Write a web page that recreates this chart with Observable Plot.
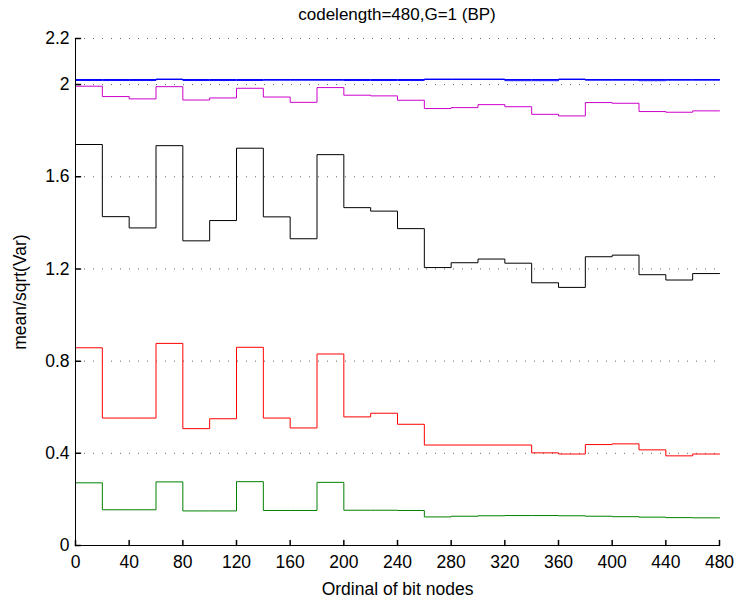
<!DOCTYPE html>
<html><head><meta charset="utf-8">
<script src="https://cdn.jsdelivr.net/npm/d3@7"></script>
<script src="https://cdn.jsdelivr.net/npm/@observablehq/plot@0.6"></script>
<style>
body{margin:0;background:#fff;font-family:"Liberation Sans",Arial,Helvetica,sans-serif;}
#title{height:28px;width:737px;box-sizing:border-box;padding-left:75px;padding-right:18px;text-align:center;font-size:17px;line-height:29px;color:#000;}
</style></head><body>
<div id="title">codelength=480,G=1 (BP)</div>
<div id="chart"></div>
<script>
// block boundaries (ordinal of bit nodes)
const blockEdges = [0,20,40,60,80,100,120,140,160,180,200,220,240,260,280,300,320,340,360,380,400,420,440,460,480];
const xTicks = [0,40,80,120,160,200,240,280,320,360,400,440,480];
const yTicks = [0,0.4,0.8,1.2,1.6,2,2.2];
const yTickLabels = ["0","0.4","0.8","1.2","1.6","2","2.2"];

const blueA   = [2.022,2.022,2.022,2.022,2.022,2.022,2.022,2.022,2.022,2.022,2.022,2.022,2.022,2.022,2.022,2.022,2.022,2.022,2.022,2.022,2.022,2.022,2.022,2.022];
const blueB   = [2.018,2.018,2.018,2.024,2.018,2.018,2.018,2.019,2.019,2.019,2.018,2.018,2.018,2.024,2.024,2.024,2.017,2.017,2.024,2.019,2.019,2.017,2.019,2.019];
const magenta = [1.993,1.948,1.938,1.991,1.933,1.942,1.984,1.946,1.923,1.987,1.954,1.951,1.932,1.896,1.900,1.913,1.904,1.871,1.864,1.922,1.919,1.883,1.880,1.886];
const black   = [1.740,1.427,1.378,1.735,1.322,1.410,1.724,1.426,1.331,1.696,1.466,1.451,1.375,1.206,1.227,1.243,1.225,1.140,1.120,1.253,1.260,1.175,1.152,1.180];
const red     = [0.858,0.553,0.553,0.877,0.507,0.550,0.860,0.553,0.510,0.831,0.558,0.574,0.526,0.436,0.436,0.436,0.436,0.402,0.397,0.438,0.441,0.415,0.389,0.397];
const green   = [0.272,0.155,0.155,0.276,0.150,0.150,0.277,0.152,0.152,0.274,0.153,0.153,0.152,0.124,0.127,0.129,0.130,0.130,0.129,0.127,0.125,0.123,0.121,0.120];

const series = [
  {name:"blueA", color:"#0000ff", values:blueA},
  {name:"blueB", color:"#0000ff", values:blueB},
  {name:"magenta", color:"#cc00cc", values:magenta},
  {name:"black", color:"#000000", values:black},
  {name:"red", color:"#ff0000", values:red},
  {name:"green", color:"#008000", values:green}
];
const rows = [];
for (const s of series) {
  s.values.forEach((v, k) => {
    rows.push({series:s.name, color:s.color, x:blockEdges[k], y:v});
    rows.push({series:s.name, color:s.color, x:blockEdges[k+1], y:v});
  });
}
const tickShape = {draw(context, l){ context.moveTo(0,0); context.lineTo(0,-l); }};

const chart = Plot.plot({
  width:737, height:573,
  marginLeft:75, marginRight:18, marginTop:10, marginBottom:56,
  style:{fontFamily:'"Liberation Sans",Arial,Helvetica,sans-serif', fontSize:"17.5px", color:"#000", background:"#fff", overflow:"visible"},
  x:{domain:[0,480]},
  y:{domain:[0,2.2]},
  marks:[
    Plot.ruleY(yTicks.filter(d=>d>0), {stroke:"#666", strokeOpacity:1, strokeDasharray:"1,8"}),
    Plot.lineY(rows, {x:"x", y:"y", z:"series", stroke:"color", strokeWidth:1}),
    Plot.axisX({ticks:xTicks, tickSize:0, tickPadding:10, tickFormat:d=>String(d), label:"Ordinal of bit nodes", labelAnchor:"center", labelArrow:"none", labelOffset:49}),
    Plot.axisY({ticks:yTicks, tickSize:0, tickPadding:6, tickFormat:d=>yTickLabels[yTicks.indexOf(d)], label:"mean/sqrt(Var)", labelAnchor:"center", labelArrow:"none", labelOffset:62}),
    Plot.ruleX([0], {stroke:"#000"}),
    Plot.ruleY([0], {stroke:"#000"}),
    Plot.vector(yTicks, {x:0, y:d=>d, length:5, rotate:90, anchor:"start", shape:tickShape, stroke:"#000"}),
    Plot.vector(xTicks, {x:d=>d, y:0, length:5, rotate:0, anchor:"start", shape:tickShape, stroke:"#000"})
  ]
});
document.getElementById("chart").appendChild(chart);
</script>
</body></html>
